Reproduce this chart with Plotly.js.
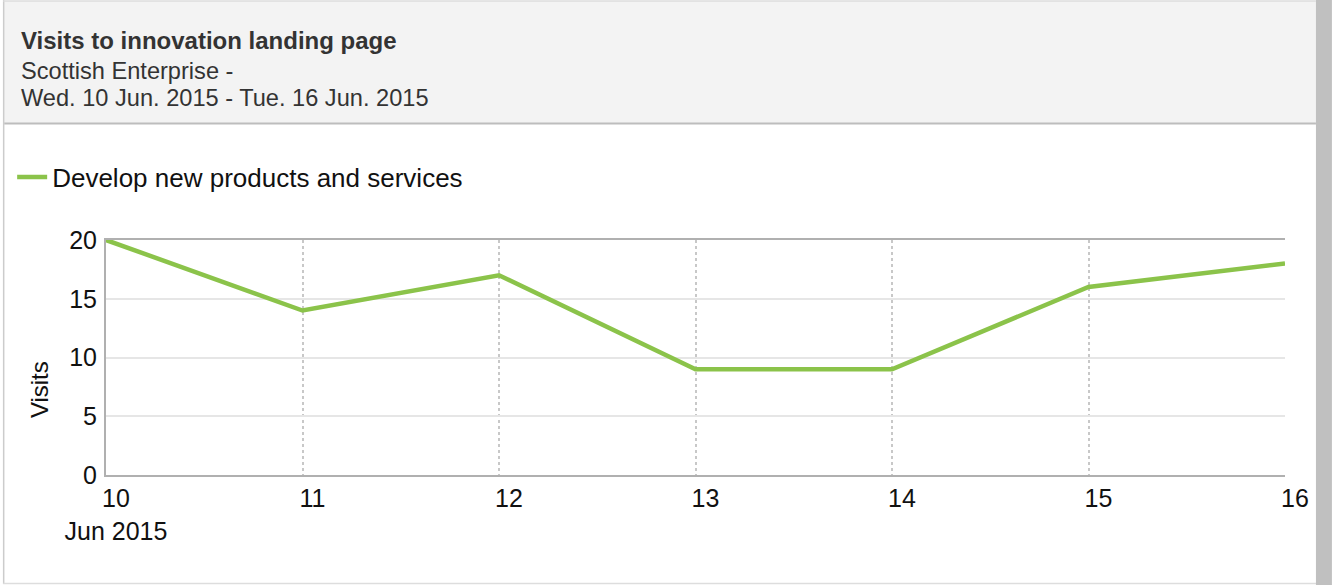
<!DOCTYPE html>
<html>
<head>
<meta charset="utf-8">
<script src="https://cdn.plot.ly/plotly-3.0.1.min.js"></script>
<style>
  html, body { margin: 0; padding: 0; background: #ffffff; }
  #chart { width: 1332px; height: 585px; }
</style>
</head>
<body>
<div id="chart"></div>
<script>
// ---- data ----
const dates = ["2015-06-10", "2015-06-11", "2015-06-12", "2015-06-13", "2015-06-14", "2015-06-15", "2015-06-16"];
const visits = [20, 14, 17, 9, 9, 16, 18];
const tickLabels = ["10<br>Jun 2015", "11", "12", "13", "14", "15", "16"];
const seriesName = "Develop new products and services";
const titleText = "Visits to innovation landing page";
const subtitleLines = ["Scottish Enterprise -", "Wed. 10 Jun. 2015 - Tue. 16 Jun. 2015"];
const yTitle = "Visits";

// ---- layout geometry (pixels) ----
const W = 1332, H = 585;
const L = 104, R = 1285, T = 240, B = 475;
const pw = R - L, ph = B - T;
const px = v => (v - L) / pw;
const py = v => (B - v) / ph;

const FONT = "Liberation Sans, Arial, Helvetica, sans-serif";

const trace = {
  type: "scatter",
  mode: "lines",
  x: dates,
  y: visits,
  name: seriesName,
  line: { color: "#8BC34A", width: 4.5 },
  hoverinfo: "x+y"
};

const shapes = [
  // header panel
  { type: "rect", xref: "paper", yref: "paper", x0: px(2), x1: px(1316), y0: py(123), y1: py(1),
    fillcolor: "#f3f3f3", line: { width: 0 }, layer: "below" },
  // header bottom border
  { type: "line", xref: "paper", yref: "paper", x0: px(2), x1: px(1316), y0: py(123.5), y1: py(123.5),
    line: { color: "#bdbdbd", width: 2 } },
  // outer frame lines
  { type: "line", xref: "paper", yref: "paper", x0: px(1.5), x1: px(1.5), y0: py(0), y1: py(584),
    line: { color: "#cccccc", width: 1.5 } },
  { type: "line", xref: "paper", yref: "paper", x0: px(1), x1: px(1316), y0: py(1), y1: py(1),
    line: { color: "#dddddd", width: 1.5 } },
  { type: "line", xref: "paper", yref: "paper", x0: px(1), x1: px(1316), y0: py(583.5), y1: py(583.5),
    line: { color: "#dddddd", width: 1.5 } },
  // right side bar
  { type: "rect", xref: "paper", yref: "paper", x0: px(1316), x1: px(1332), y0: py(585), y1: py(0),
    fillcolor: "#c0c0c0", line: { width: 0 } }
];

const annotations = [
  { xref: "paper", yref: "paper", x: px(17), y: py(40), xanchor: "left", yanchor: "middle",
    text: "<b>" + titleText + "</b>", showarrow: false,
    font: { family: FONT, size: 24, color: "#333333" } },
  { xref: "paper", yref: "paper", x: px(17), y: py(71), xanchor: "left", yanchor: "middle",
    text: subtitleLines[0], showarrow: false,
    font: { family: FONT, size: 23.6, color: "#333333" } },
  { xref: "paper", yref: "paper", x: px(17), y: py(98), xanchor: "left", yanchor: "middle",
    text: subtitleLines[1], showarrow: false,
    font: { family: FONT, size: 23.6, color: "#333333" } },
  { xref: "paper", yref: "paper", x: px(37), y: py(390), xanchor: "center", yanchor: "middle",
    text: yTitle, textangle: -90, showarrow: false,
    font: { family: FONT, size: 24, color: "#111111" } }
];

const layout = {
  width: W, height: H,
  margin: { l: L, r: W - R, t: T, b: H - B, pad: 0 },
  paper_bgcolor: "#ffffff",
  plot_bgcolor: "#ffffff",
  font: { family: FONT, size: 24, color: "#111111" },
  showlegend: true,
  legend: {
    x: px(10), y: py(177), xanchor: "left", yanchor: "middle",
    orientation: "h",
    bgcolor: "rgba(0,0,0,0)",
    font: { family: FONT, size: 26, color: "#111111" }
  },
  xaxis: {
    type: "date",
    range: [dates[0], dates[dates.length - 1]],
    tickmode: "array",
    tickvals: dates,
    ticktext: tickLabels,
    ticks: "",
    ticklabelshift: 10,
    ticklabelstandoff: 0,
    showgrid: true,
    gridcolor: "#c8c8c8",
    gridwidth: 2,
    griddash: "dot",
    showline: true,
    linecolor: "#b0b0b0",
    linewidth: 2,
    mirror: true,
    zeroline: false,
    fixedrange: true,
    tickfont: { family: FONT, size: 25, color: "#111111" }
  },
  yaxis: {
    range: [0, 20],
    tickmode: "array",
    tickvals: [0, 5, 10, 15, 20],
    ticks: "",
    ticklabelstandoff: 2,
    showgrid: true,
    gridcolor: "#e6e6e6",
    gridwidth: 2,
    showline: true,
    linecolor: "#b0b0b0",
    linewidth: 2,
    zeroline: false,
    fixedrange: true,
    tickfont: { family: FONT, size: 25, color: "#111111" }
  },
  shapes: shapes,
  annotations: annotations
};

Plotly.newPlot("chart", [trace], layout, { displayModeBar: false, staticPlot: false, responsive: false });
</script>
</body>
</html>
